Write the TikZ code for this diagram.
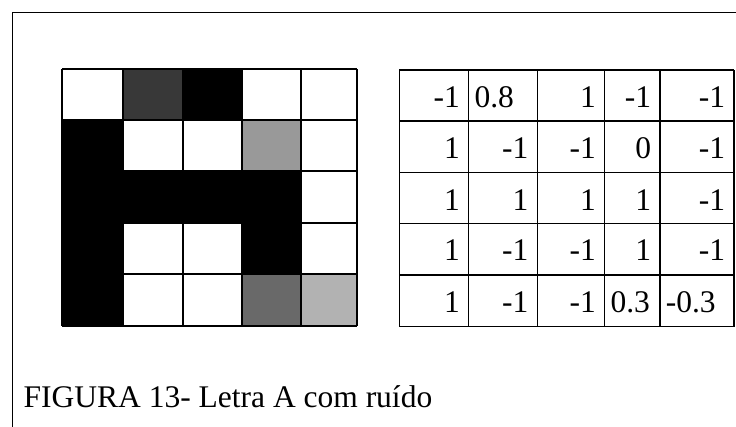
\documentclass[tikz,border=0pt]{standalone}
\usepackage{fontspec}
\setmainfont{Liberation Serif}
\begin{document}
\begin{tikzpicture}[x=1pt,y=-1pt,
  val/.style={inner sep=0pt, font=\fontsize{31.5}{37}\selectfont},
  cellline/.style={line width=1.8pt},
  tabline/.style={line width=1.2pt}]
\useasboundingbox (0,0) rectangle (736,427);
% frame
\draw[line width=1.5pt] (12.5,427) -- (12.5,12.5) -- (736,12.5);
% noisy letter
\fill[black] (62.3,120.3) rectangle (123,325.7);
\fill[black] (62.3,171.3) rectangle (301,222.7);
\fill[black] (242.3,222.7) rectangle (301,274.3);
\fill[black] (183.3,69.3) rectangle (242.3,120.3);
\fill[black!78] (123,69.3) rectangle (183.3,120.3);
\fill[black!40] (242.3,120.3) rectangle (301,171.3);
\fill[black!59] (242.3,274.3) rectangle (301,325.7);
\fill[black!30] (301,274.3) rectangle (357.3,325.7);
\foreach \x in {62.3,123,183.3,242.3,301,357.3} \draw[cellline] (\x,69.3) -- (\x,325.7);
\foreach \y in {69.3,120.3,171.3,222.7,274.3,325.7} \draw[cellline] (62.3,\y) -- (357.3,\y);
% values table
\foreach \x in {399.3,468.7,537.3,604.7,660,734} \draw[tabline] (\x,70) -- (\x,326.7);
\foreach \y in {70,121,172.7,223.3,275,326.7} \draw[tabline] (399.3,\y) -- (734,\y);
\foreach \r/\c/\v/\a in {0/0/-1/r,0/1/0.8/l,0/2/1/r,0/3/-1/r,0/4/-1/r,
    1/0/1/r,1/1/-1/r,1/2/-1/r,1/3/0/r,1/4/-1/r,
    2/0/1/r,2/1/1/r,2/2/1/r,2/3/1/r,2/4/-1/r,
    3/0/1/r,3/1/-1/r,3/2/-1/r,3/3/1/r,3/4/-1/r,
    4/0/1/r,4/1/-1/r,4/2/-1/r,4/3/0.3/l,4/4/-0.3/l}{
  \pgfmathsetmacro\yb{{107.5,158.5,210.2,260.8,312.5}[\r]}
  \if\a r
    \pgfmathsetmacro\xe{{468.7,537.3,604.7,660,734}[\c]-8.7}
    \node[val, anchor=base east] (v-\r-\c) at (\xe,\yb) {\v};
  \else
    \pgfmathsetmacro\xe{{399.3,468.7,537.3,604.7,660}[\c]+5.6}
    \node[val, anchor=base west] (v-\r-\c) at (\xe,\yb) {\v};
  \fi
}
\node[val, anchor=base west] (caption) at (23.5,407) {FIGURA 13- Letra A com ruído};
\end{tikzpicture}
\end{document}
